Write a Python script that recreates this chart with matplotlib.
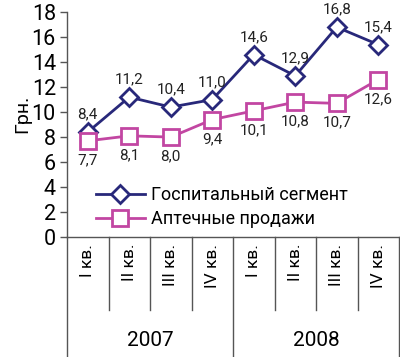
import numpy as np
import matplotlib.pyplot as plt
from matplotlib.lines import Line2D

quarters = ["I кв.", "II кв.", "III кв.", "IV кв.", "I кв.", "II кв.", "III кв.", "IV кв."]
years = ["2007", "2008"]
hospital = [8.4, 11.2, 10.4, 11.0, 14.6, 12.9, 16.8, 15.4]
pharmacy = [7.7, 8.1, 8.0, 9.4, 10.1, 10.8, 10.7, 12.6]

navy = "#28287a"
pink = "#c246a2"
grey = "#555555"

plt.rcParams['font.family'] = ['Roboto', 'DejaVu Sans']

fig = plt.figure(figsize=(4.0, 3.57), dpi=100)
ax = fig.add_axes([0.1675, 0.336, 0.83, 0.63])

x = np.arange(len(quarters))
ax.plot(x, hospital, color=navy, lw=2, marker="D", markersize=9,
        markerfacecolor="white", markeredgecolor=navy, markeredgewidth=2,
        label="Госпитальный сегмент", zorder=3)
ax.plot(x, pharmacy, color=pink, lw=2, marker="s", markersize=11,
        markerfacecolor="white", markeredgecolor=pink, markeredgewidth=2,
        label="Аптечные продажи", zorder=3)

for xi, v in zip(x, hospital):
    ax.annotate(f"{v:.1f}".replace(".", ","), (xi, v), xytext=(0, 12.5),
                textcoords="offset points", ha="center", va="center",
                fontsize=11, color="#222222")
for xi, v in zip(x, pharmacy):
    ax.annotate(f"{v:.1f}".replace(".", ","), (xi, v), xytext=(0, -14),
                textcoords="offset points", ha="center", va="center",
                fontsize=11, color="#222222")

ax.set_xlim(-0.5, 7.5)
ax.set_ylim(0, 18)
ax.set_yticks(np.arange(0, 19, 2))
ax.tick_params(axis="y", labelsize=15.5, length=5, width=1, color=grey, pad=3)
for s in ["top", "right"]:
    ax.spines[s].set_visible(False)
for s in ["left", "bottom"]:
    ax.spines[s].set_color(grey)
    ax.spines[s].set_linewidth(1)

ax.set_xticks(x)
ax.set_xticklabels(quarters, rotation=90, fontsize=12.5, va="top")
ax.tick_params(axis="x", length=0, pad=5)

tr = ax.get_xaxis_transform()
for i in range(1, len(quarters)):
    bottom = -0.533 if i == 4 else -0.324
    ax.add_line(Line2D([i - 0.5, i - 0.5], [0, bottom], transform=tr,
                       color=grey, lw=1, clip_on=False))
for xe in [-0.5, 7.5]:
    ax.add_line(Line2D([xe, xe], [0, -0.533], transform=tr,
                       color=grey, lw=1, clip_on=False))
for j, yr in enumerate(years):
    ax.text(1.5 + 4 * j, -0.46, yr, transform=tr, ha="center", va="center",
            fontsize=15)

fig.text(0.055, 0.68, "Грн.", rotation=90, ha="center", va="center", fontsize=14)

ax.legend(loc="upper left", bbox_to_anchor=(0.06, 0.265), frameon=False,
          fontsize=13, handlelength=2.7, handletextpad=0.35, labelspacing=0.3,
          borderpad=0)

fig.savefig("out.png", dpi=100)
